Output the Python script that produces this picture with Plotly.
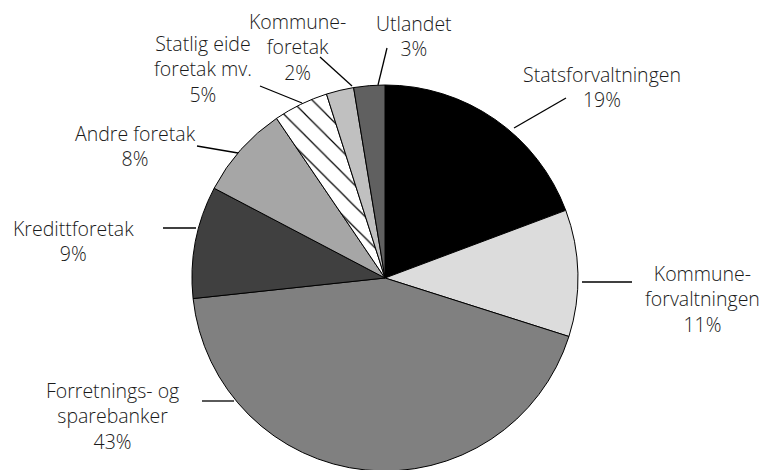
import plotly.graph_objects as go

W, H = 767, 470
OFF = 8  # page body margin in the browser

# ---- data ----
categories = ["Statsforvaltningen", "Kommuneforvaltningen", "Forretnings- og sparebanker",
              "Kredittforetak", "Andre foretak", "Statlig eide foretak mv.",
              "Kommuneforetak", "Utlandet"]
values = [19.3, 10.6, 43.4, 9.4, 7.8, 4.6, 2.3, 2.6]
label_lines = [["Statsforvaltningen"], ["Kommune-", "forvaltningen"], ["Forretnings- og", "sparebanker"],
               ["Kredittforetak"], ["Andre foretak"], ["Statlig eide", "foretak mv."],
               ["Kommune-", "foretak"], ["Utlandet"]]

# ---- styles ----
colors = ["#000000", "#dcdcdc", "#808080", "#404040", "#a6a6a6", "#ffffff", "#c0c0c0", "#606060"]
patterns = ["", "", "", "", "", "\\", "", ""]

# label centre (screen px) and leader line (screen px: x0, y0, x1, y1)
label_pos = [(602, 87), (702, 299), (112, 416), (73, 241), (135, 146),
             (203, 69), (297, 47), (414, 36)]
leader = [(514, 128, 566, 98), (582, 282, 632, 282), (202, 401, 234, 401),
          (163, 228, 196, 228), (197, 146, 238, 153), (260, 86, 302, 103),
          (320, 57, 352, 86), (387, 48, 378, 85)]

FONT = "Open Sans"

def px(x):
    return (x - OFF) / W

def py(y):
    return 1 - (y - OFF) / H

# pie: centre (385, 278), radius 193 in screen px
cx, cy, r = 385, 278, 193

fig = go.Figure(go.Pie(
    labels=categories,
    values=values,
    sort=False,
    direction="clockwise",
    rotation=0,
    textinfo="none",
    hoverinfo="none",
    showlegend=False,
    marker=dict(
        colors=colors,
        line=dict(color="#000000", width=1),
        pattern=dict(shape=patterns, fgcolor="#000000", size=15, solidity=0.08),
    ),
    domain=dict(x=[px(cx - r), px(cx + r)], y=[py(cy + r), py(cy - r)]),
))

total = sum(values)
annotations = []
for lines, v, (lx, ly) in zip(label_lines, values, label_pos):
    text = "<br>".join(lines + [f"{round(v / total * 100):.0f}%"])
    annotations.append(dict(
        x=px(lx), y=py(ly), xref="paper", yref="paper",
        text=text, showarrow=False, align="center",
        xanchor="center", yanchor="middle",
        font=dict(family=FONT, size=19.5, color="#1a1a1a", weight=300),
    ))

shapes = []
for (x0, y0, x1, y1) in leader:
    shapes.append(dict(type="line", xref="paper", yref="paper",
                       x0=px(x0), y0=py(y0), x1=px(x1), y1=py(y1),
                       line=dict(color="#000000", width=1.3)))

fig.update_layout(
    width=W, height=H,
    margin=dict(l=0, r=0, t=0, b=0),
    paper_bgcolor="white", plot_bgcolor="white",
    annotations=annotations, shapes=shapes,
)

fig.write_html("out.html")
